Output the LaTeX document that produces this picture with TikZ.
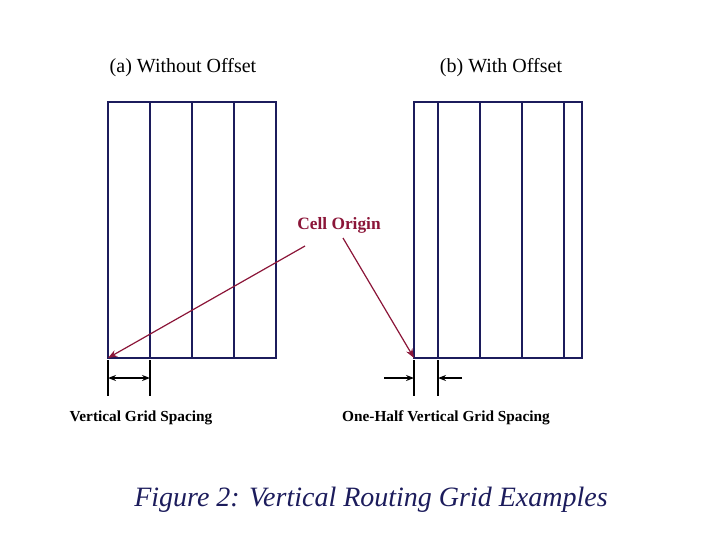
\documentclass[tikz,border=0pt]{standalone}
\usetikzlibrary{arrows.meta}
\usepackage{fontspec}
\setmainfont{Liberation Serif}
\definecolor{navy}{HTML}{1C1C5C}
\definecolor{wine}{HTML}{8B1538}
\begin{document}
\begin{tikzpicture}[x=0.75pt,y=-0.75pt,
  grid/.style={draw=navy,line width=1.6pt},
  red arrow/.style={draw=wine,line width=0.9pt,-{Stealth[length=7pt]}},
  dim/.style={draw=black,line width=1.2pt},
  dimarrow/.style={draw=black,line width=1.6pt,-{Stealth[length=6pt]}}]
\useasboundingbox (0,0) rectangle (720,540);
% left grid
\foreach \x in {150,192,234} \draw[grid] (\x,102) -- (\x,358);
\draw[grid] (108,102) rectangle (276,358);
% right grid
\foreach \x in {438,480,522,564} \draw[grid] (\x,102) -- (\x,358);
\draw[grid] (414,102) rectangle (582,358);
% labels
\node (ta) at (183,68) {\fontsize{15}{18}\selectfont (a) Without Offset};
\node (tb) at (501,68) {\fontsize{15}{18}\selectfont (b) With Offset};
\node[text=wine,font=\bfseries\fontsize{13}{16}\selectfont] (co) at (339,225) {Cell Origin};
\coordinate (oa) at (108,358);
\coordinate (ob) at (414,358);
\coordinate (sa) at (305,246);
\coordinate (sb) at (343,238);
\draw[red arrow] (sa) -- (oa);
\draw[red arrow] (sb) -- (ob);
% dimension lines
\draw[dim] (108,360) -- (108,396) (150,360) -- (150,396);
\draw[dim] (414,360) -- (414,396) (438,360) -- (438,396);
\coordinate (d1) at (108,378); \coordinate (d2) at (150,378);
\draw[draw=black,line width=1.6pt,{Stealth[length=6pt]}-{Stealth[length=6pt]}] (d1) -- (d2);
\coordinate (e1) at (384,378); \coordinate (e2) at (414,378);
\coordinate (f1) at (462,378); \coordinate (f2) at (438,378);
\draw[dimarrow] (e1) -- (e2);
\draw[dimarrow] (f1) -- (f2);
\node[font=\bfseries\fontsize{11.5}{14}\selectfont] (la) at (141,418) {Vertical Grid Spacing};
\node[font=\bfseries\fontsize{11.5}{14}\selectfont] (lb) at (446,418) {One-Half Vertical Grid Spacing};
\node[text=navy,font=\itshape\fontsize{21}{25}\selectfont] (cap) at (371,500) {Figure 2: Vertical Routing Grid Examples};
\end{tikzpicture}
\end{document}
